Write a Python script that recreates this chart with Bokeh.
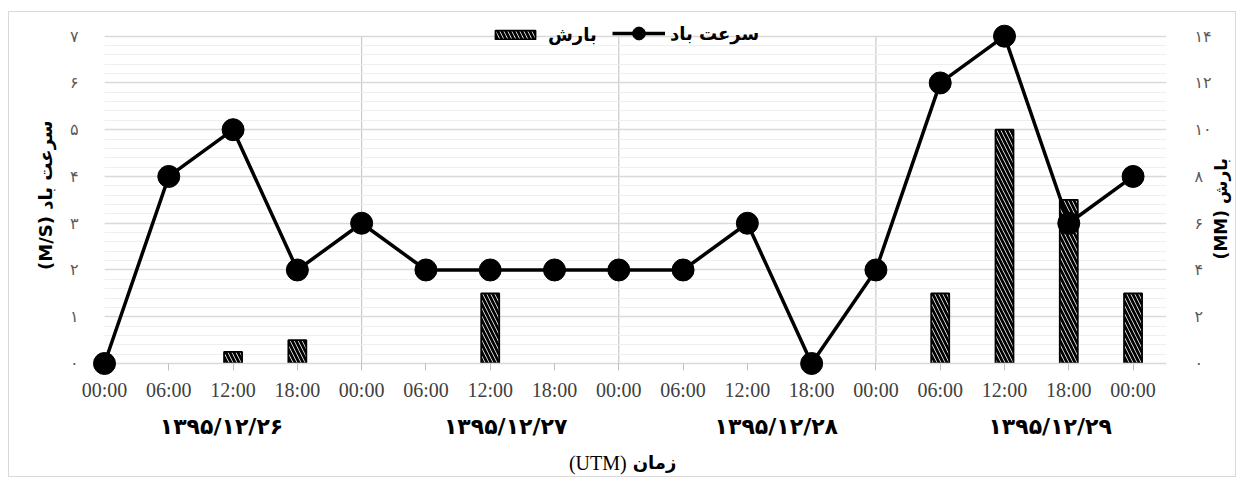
from bokeh.plotting import figure
from bokeh.models import Range1d, LinearAxis, FixedTicker, Legend, LegendItem
from bokeh.core.properties import value
from bokeh.embed import file_html
from bokeh.resources import INLINE

# ---- data ----
time_labels = ["00:00", "06:00", "12:00", "18:00",
               "00:00", "06:00", "12:00", "18:00",
               "00:00", "06:00", "12:00", "18:00",
               "00:00", "06:00", "12:00", "18:00", "00:00"]
wind_speed = [0, 4, 5, 2, 3, 2, 2, 2, 2, 2, 3, 0, 2, 6, 7, 3, 4]
rainfall = [0, 0, 0.5, 1, 0, 0, 3, 0, 0, 0, 0, 0, 0, 3, 10, 7, 3]
day_labels = ["۱۳۹۵/۱۲/۲۶", "۱۳۹۵/۱۲/۲۷", "۱۳۹۵/۱۲/۲۸", "۱۳۹۵/۱۲/۲۹"]
speed_ticks = [0, 1, 2, 3, 4, 5, 6, 7]
speed_tick_labels = ["۰", "۱", "۲", "۳", "۴", "۵", "۶", "۷"]
rain_ticks = [0, 2, 4, 6, 8, 10, 12, 14]
rain_tick_labels = ["۰", "۲", "۴", "۶", "۸", "۱۰", "۱۲", "۱۴"]
day_boundaries = [4, 8, 12]

# label placement (layout only)
day_label_x = [1.82, 6.24, 10.45, 14.71]
PERSIAN_FONT = "DejaVu Sans"
SERIF_FONT = "Liberation Serif"

idx = list(range(len(time_labels)))
speed_max = max(speed_ticks)
head_room = 0.485   # empty space above the top gridline, holds the legend
y_end = speed_max + head_room
rain_end = y_end * max(rain_ticks) / speed_max

p = figure(width=1228, height=466,
           x_range=Range1d(0, 16.52), y_range=Range1d(0, y_end),
           output_backend="svg", toolbar_location=None,
           min_border_left=95, min_border_right=71,
           min_border_top=1, min_border_bottom=115,
           outline_line_color=None,
           background_fill_color="white", border_fill_color="white")
p.styles = {"border": "1px solid #d9d9d9", "margin-left": "8px", "margin-top": "11px"}

# grids
p.xgrid.grid_line_color = None
p.ygrid.ticker = FixedTicker(ticks=speed_ticks,
                             minor_ticks=[k / 5 for k in range(5 * speed_max + 1)])
p.ygrid.grid_line_color = "#d9d9d9"
p.ygrid.grid_line_width = 1.5
p.ygrid.minor_grid_line_color = "#efefef"
p.ygrid.minor_grid_line_width = 1
# vertical day separators (0 .. top gridline)
p.segment(x0=day_boundaries, y0=[0] * len(day_boundaries),
          x1=day_boundaries, y1=[speed_max] * len(day_boundaries),
          line_color="#bfbfbf", line_width=1, level="underlay")

# x axis
xa = p.xaxis[0]
xa.ticker = FixedTicker(ticks=idx)
xa.major_label_overrides = {i: t for i, t in enumerate(time_labels)}
xa.axis_line_color = "#d9d9d9"
xa.axis_line_width = 1.5
xa.major_tick_line_color = "#bfbfbf"
xa.major_tick_out = 7
xa.major_tick_in = 0
xa.minor_tick_line_color = None
xa.major_label_standoff = 8
xa.major_label_text_font = SERIF_FONT
xa.major_label_text_font_size = "20px"
xa.major_label_text_color = "#404040"

# left axis
ya = p.yaxis[0]
ya.ticker = FixedTicker(ticks=speed_ticks)
ya.major_label_overrides = {t: l for t, l in zip(speed_ticks, speed_tick_labels)}
ya.axis_line_color = None
ya.major_tick_line_color = None
ya.minor_tick_line_color = None
ya.major_label_standoff = 20
ya.major_label_text_font = PERSIAN_FONT
ya.major_label_text_font_size = "16px"
ya.major_label_text_color = "#595959"

# right axis
p.extra_y_ranges = {"rain": Range1d(0, rain_end)}
ra = LinearAxis(y_range_name="rain", ticker=FixedTicker(ticks=rain_ticks))
ra.major_label_overrides = {t: l for t, l in zip(rain_ticks, rain_tick_labels)}
ra.axis_line_color = None
ra.major_tick_line_color = None
ra.minor_tick_line_color = None
ra.major_label_standoff = 22
ra.major_label_text_font = PERSIAN_FONT
ra.major_label_text_font_size = "16px"
ra.major_label_text_color = "#595959"
p.add_layout(ra, "right")

# bars (rain), only non-zero values are drawn
bar_x = [i for i, r in zip(idx, rainfall) if r > 0]
bar_top = [r for r in rainfall if r > 0]
bars = p.vbar(x=bar_x, top=bar_top, width=0.28, bottom=0, y_range_name="rain",
              fill_color="white", line_color="black", line_width=1.8,
              hatch_pattern="left_diagonal_line", hatch_color="black",
              hatch_scale=8, hatch_weight=2.8)

# wind speed line + markers
ln = p.line(idx, wind_speed, line_color="black", line_width=3.5, level="overlay")
pts = p.scatter(idx, wind_speed, size=22, marker="circle",
                fill_color="black", line_color="black", level="overlay")

# legends
leg1 = Legend(items=[LegendItem(label=value("بارش"), renderers=[bars])],
              location=(386, 318), orientation="horizontal",
              glyph_width=50, glyph_height=11, label_standoff=8,
              padding=0, margin=0, spacing=0,
              background_fill_alpha=0, border_line_alpha=0,
              label_text_font=PERSIAN_FONT, label_text_font_style="bold",
              label_text_font_size="18px", label_text_color="black")
leg2 = Legend(items=[LegendItem(label=value("سرعت باد"), renderers=[ln, pts])],
              location=(508, 314), orientation="horizontal",
              glyph_width=53, glyph_height=32, label_standoff=5,
              padding=0, margin=0, spacing=0,
              background_fill_alpha=0, border_line_alpha=0,
              label_text_font=PERSIAN_FONT, label_text_font_style="bold",
              label_text_font_size="18px", label_text_color="black")
p.add_layout(leg1)
p.add_layout(leg2)

# day group labels
p.text(x=day_label_x, y=[-1.35] * len(day_labels), text=day_labels,
       text_font=value(PERSIAN_FONT), text_font_style="bold", text_font_size="22px",
       text_align="center", text_baseline="middle", text_color="black", level="overlay")

# axis titles
p.text(x=[-0.92], y=[3.6], text=["(M/S) سرعت باد"], angle=90, angle_units="deg",
       text_font=value(PERSIAN_FONT), text_font_style="bold", text_font_size="18px",
       text_align="center", text_baseline="middle", text_color="black", level="overlay")
p.text(x=[17.36], y=[3.31], text=["(MM) بارش"], angle=90, angle_units="deg",
       text_font=value(PERSIAN_FONT), text_font_style="bold", text_font_size="17px",
       text_align="center", text_baseline="middle", text_color="black", level="overlay")
# x title: "(UTM)" on the left, "زمان" on the right (right-to-left reading)
p.text(x=[8.17], y=[-2.12], text=["(UTM)"], x_offset=-3,
       text_font=value(SERIF_FONT), text_font_size="20px",
       text_align="right", text_baseline="middle", text_color="black", level="overlay")
p.text(x=[8.17], y=[-2.12], text=["زمان"], x_offset=3,
       text_font=value(PERSIAN_FONT), text_font_style="bold", text_font_size="18px",
       text_align="left", text_baseline="middle", text_color="black", level="overlay")

open("out.html", "w").write(file_html(p, INLINE))
